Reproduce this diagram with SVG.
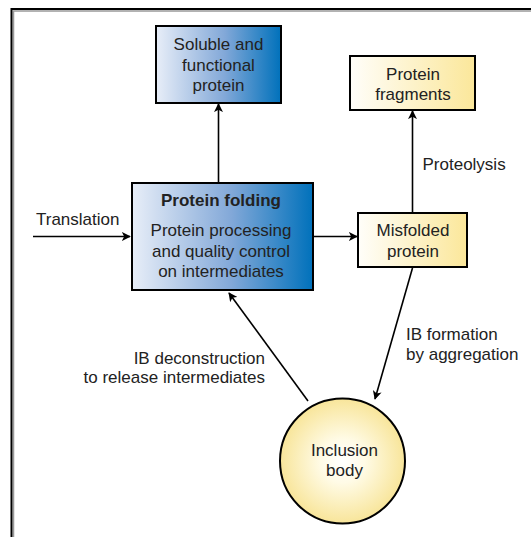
<svg xmlns="http://www.w3.org/2000/svg" width="531" height="537" viewBox="0 0 531 537">
<defs>
<linearGradient id="blue" x1="0" y1="0" x2="1" y2="0">
<stop offset="0" stop-color="#e8eef8"/>
<stop offset="0.55" stop-color="#82a8d8"/>
<stop offset="1" stop-color="#0071bb"/>
</linearGradient>
<linearGradient id="yellow" x1="0" y1="0" x2="1" y2="0">
<stop offset="0" stop-color="#fffefa"/>
<stop offset="1" stop-color="#fbe79a"/>
</linearGradient>
<radialGradient id="ryellow" cx="0.5" cy="0.5" r="0.5">
<stop offset="0" stop-color="#ffffff"/>
<stop offset="0.35" stop-color="#fffbe6"/>
<stop offset="1" stop-color="#f8e59a"/>
</radialGradient>
<marker id="arr" viewBox="0 0 10 10" refX="9" refY="5" markerWidth="9" markerHeight="9" markerUnits="userSpaceOnUse" orient="auto">
<path d="M0,0 L10,5 L0,10 L2.5,5 Z" fill="#000"/>
</marker>
<style>
text{font-family:"Liberation Sans",Arial,sans-serif;font-size:17px;fill:#222;}
.c{text-anchor:middle;}
.e{text-anchor:end;}
.b{font-weight:bold;}
.box{stroke:#000;stroke-width:2;}
.ln{stroke:#000;stroke-width:1.6;fill:none;marker-end:url(#arr);}
</style>
</defs>
<rect width="531" height="537" fill="#fff"/>
<path d="M13.5,537 V11 H531" fill="none" stroke="#999" stroke-width="1.5"/>
<path d="M11.5,537 V9 H531" fill="none" stroke="#000" stroke-width="2"/>

<g id="connectors">
<line class="ln" x1="33" y1="236.5" x2="130" y2="236.5"/>
<line class="ln" x1="218.5" y1="183" x2="218.5" y2="104"/>
<line class="ln" x1="313" y1="236.5" x2="357" y2="236.5"/>
<line class="ln" x1="412.5" y1="212" x2="412.5" y2="111"/>
<line class="ln" x1="412.5" y1="268" x2="375" y2="399"/>
<line class="ln" x1="308" y1="401" x2="229" y2="293"/>
<text x="36" y="225">Translation</text>
<text x="422.5" y="169.5">Proteolysis</text>
<text x="406" y="340">IB formation</text>
<text x="406" y="359.5">by aggregation</text>
<text class="e" x="265" y="363.5">IB deconstruction</text>
<text class="e" x="265" y="383">to release intermediates</text>
</g>

<g id="soluble">
<rect class="box" x="156" y="26" width="125" height="77" fill="url(#blue)"/>
<text class="c" x="218.5" y="50">Soluble and</text>
<text class="c" x="218.5" y="70.5">functional</text>
<text class="c" x="218.5" y="90.5">protein</text>
</g>

<g id="fragments">
<rect class="box" x="350" y="56" width="125" height="54" fill="url(#yellow)"/>
<text class="c" x="413" y="79.5">Protein</text>
<text class="c" x="413" y="100">fragments</text>
</g>

<g id="folding">
<rect class="box" x="132" y="183" width="181" height="107" fill="url(#blue)"/>
<text class="c b" x="221" y="206">Protein folding</text>
<text class="c" x="221" y="236">Protein processing</text>
<text class="c" x="221" y="256.5">and quality control</text>
<text class="c" x="221" y="276.5">on intermediates</text>
</g>

<g id="misfolded">
<rect class="box" x="358" y="213" width="109" height="54" fill="url(#yellow)"/>
<text class="c" x="413" y="236">Misfolded</text>
<text class="c" x="413" y="256.5">protein</text>
</g>

<g id="inclusion">
<circle cx="342.5" cy="461" r="62.5" fill="url(#ryellow)" stroke="#000" stroke-width="2"/>
<text class="c" x="344.5" y="456">Inclusion</text>
<text class="c" x="344.5" y="476">body</text>
</g>
</svg>
